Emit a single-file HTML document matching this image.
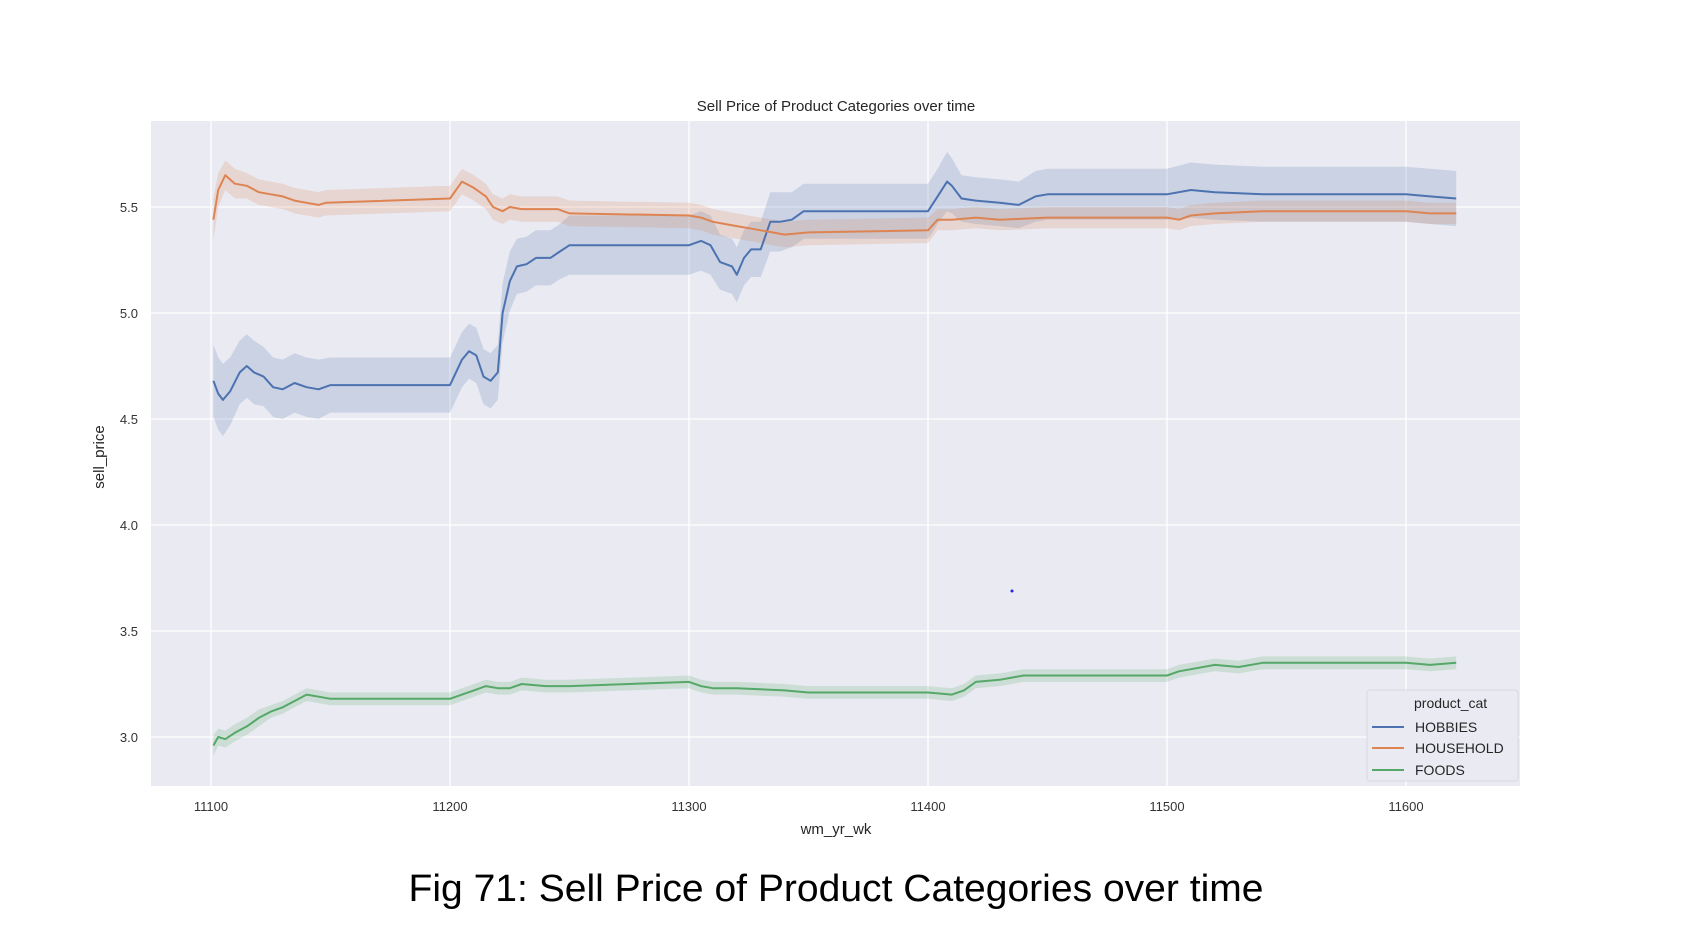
<!DOCTYPE html>
<html><head><meta charset="utf-8"><style>
html,body{margin:0;padding:0;background:#fff;}
svg{display:block;font-family:"Liberation Sans",sans-serif;}
</style></head><body>
<svg id="chart" width="1688" height="932" viewBox="0 0 1688 932">
<rect x="151" y="121" width="1369" height="665" fill="#eaeaf2"/>
<g id="grid"></g>
<g id="bands"></g>
<g id="lines"></g>
<g id="ticks"></g>
<text x="836" y="111" font-size="15" fill="#262626" text-anchor="middle">Sell Price of Product Categories over time</text>
<text x="836" y="834" font-size="15" fill="#262626" text-anchor="middle">wm_yr_wk</text>
<text transform="translate(104,457) rotate(-90)" font-size="15" fill="#262626" text-anchor="middle">sell_price</text>
<g>
<rect x="1367" y="690" width="151" height="91" rx="3" fill="#eaeaf2" stroke="#d8d8e0"/>
<text x="1414" y="708" font-size="14" fill="#262626">product_cat</text>
<line x1="1372" y1="727" x2="1404" y2="727" stroke="#4c72b0" stroke-width="2"/>
<text x="1415" y="732" font-size="14" fill="#262626">HOBBIES</text>
<line x1="1372" y1="748" x2="1404" y2="748" stroke="#dd8452" stroke-width="2"/>
<text x="1415" y="753" font-size="14" fill="#262626">HOUSEHOLD</text>
<line x1="1372" y1="770" x2="1404" y2="770" stroke="#55a868" stroke-width="2"/>
<text x="1415" y="775" font-size="14" fill="#262626">FOODS</text>
</g>
<circle cx="1012" cy="591" r="1.5" fill="#2222ee"/>
<text x="836" y="901" font-size="38" fill="#000" text-anchor="middle" textLength="855" lengthAdjust="spacingAndGlyphs">Fig 71: Sell Price of Product Categories over time</text>
</svg>
<script>
const xTicks = [11100,11200,11300,11400,11500,11600];
const yTicks = [3.0,3.5,4.0,4.5,5.0,5.5];
const yTickLabels = ["3.0","3.5","4.0","4.5","5.0","5.5"];

const hobbiesX = [11101,11103,11105,11108,11112,11115,11118,11122,11126,11130,11135,11140,11145,11150,11200,11205,11208,11211,11214,11217,11220,11222,11225,11228,11232,11236,11242,11246,11250,11300,11305,11309,11313,11318,11320,11323,11326,11330,11334,11338,11343,11348,11400,11404,11408,11410,11414,11420,11430,11438,11445,11450,11500,11510,11520,11540,11600,11610,11621];
const hobbiesY = [4.68,4.62,4.59,4.63,4.72,4.75,4.72,4.70,4.65,4.64,4.67,4.65,4.64,4.66,4.66,4.78,4.82,4.80,4.70,4.68,4.72,5.00,5.15,5.22,5.23,5.26,5.26,5.29,5.32,5.32,5.34,5.32,5.24,5.22,5.18,5.26,5.30,5.30,5.43,5.43,5.44,5.48,5.48,5.55,5.62,5.60,5.54,5.53,5.52,5.51,5.55,5.56,5.56,5.58,5.57,5.56,5.56,5.55,5.54];
const hobbiesErr = [0.17,0.17,0.17,0.16,0.15,0.15,0.15,0.14,0.14,0.14,0.14,0.14,0.14,0.13,0.13,0.13,0.13,0.13,0.13,0.13,0.13,0.14,0.14,0.13,0.13,0.13,0.13,0.13,0.14,0.14,0.14,0.14,0.13,0.13,0.13,0.13,0.13,0.13,0.14,0.14,0.13,0.13,0.13,0.13,0.14,0.13,0.11,0.11,0.11,0.11,0.12,0.12,0.12,0.13,0.13,0.13,0.13,0.13,0.13];

const householdX = [11101,11103,11106,11110,11115,11120,11125,11130,11135,11140,11145,11148,11200,11205,11210,11215,11218,11222,11225,11230,11240,11245,11250,11300,11305,11310,11315,11320,11325,11330,11335,11340,11350,11400,11404,11410,11420,11430,11450,11500,11505,11510,11520,11540,11600,11610,11621];
const householdY = [5.44,5.58,5.65,5.61,5.60,5.57,5.56,5.55,5.53,5.52,5.51,5.52,5.54,5.62,5.59,5.55,5.50,5.48,5.50,5.49,5.49,5.49,5.47,5.46,5.45,5.43,5.42,5.41,5.40,5.39,5.38,5.37,5.38,5.39,5.44,5.44,5.45,5.44,5.45,5.45,5.44,5.46,5.47,5.48,5.48,5.47,5.47];
const householdErr = [0.1,0.08,0.07,0.07,0.06,0.06,0.06,0.06,0.06,0.06,0.06,0.06,0.06,0.06,0.06,0.06,0.06,0.06,0.06,0.06,0.06,0.06,0.06,0.06,0.06,0.06,0.06,0.06,0.06,0.06,0.06,0.06,0.06,0.06,0.05,0.05,0.05,0.05,0.05,0.05,0.05,0.05,0.05,0.05,0.05,0.05,0.05];

const foodsX = [11101,11103,11106,11110,11115,11120,11125,11130,11135,11140,11145,11150,11200,11205,11210,11215,11220,11225,11230,11240,11250,11300,11305,11310,11320,11340,11350,11400,11410,11415,11420,11430,11440,11450,11500,11505,11510,11520,11530,11540,11600,11610,11621];
const foodsY = [2.96,3.00,2.99,3.02,3.05,3.09,3.12,3.14,3.17,3.20,3.19,3.18,3.18,3.20,3.22,3.24,3.23,3.23,3.25,3.24,3.24,3.26,3.24,3.23,3.23,3.22,3.21,3.21,3.20,3.22,3.26,3.27,3.29,3.29,3.29,3.31,3.32,3.34,3.33,3.35,3.35,3.34,3.35];
const foodsErr = [0.05,0.04,0.04,0.04,0.04,0.04,0.03,0.03,0.03,0.03,0.03,0.03,0.03,0.03,0.03,0.03,0.03,0.03,0.03,0.03,0.03,0.03,0.03,0.03,0.03,0.03,0.03,0.03,0.03,0.03,0.03,0.03,0.03,0.03,0.03,0.03,0.03,0.03,0.03,0.03,0.03,0.03,0.03];

const NS = "http://www.w3.org/2000/svg";
function sx(v){ return 211 + (v - 11100) * 2.39; }
function sy(v){ return 737 - (v - 3.0) * 212; }
function mk(tag, attrs, parent){
  const e = document.createElementNS(NS, tag);
  for (const k in attrs) e.setAttribute(k, attrs[k]);
  parent.appendChild(e);
  return e;
}
const grid = document.getElementById('grid');
const ticks = document.getElementById('ticks');
xTicks.forEach(t => {
  const l = mk('line', {x1:sx(t), x2:sx(t), y1:121, y2:786, stroke:'#fff', 'stroke-width':1.3}, grid);
  
  
  const tx = mk('text', {x:sx(t), y:811, 'font-size':13, fill:'#333', 'text-anchor':'middle'}, ticks);
  tx.textContent = String(t);
  
  
});
yTicks.forEach((t, i) => {
  const l = mk('line', {x1:151, x2:1520, y1:sy(t), y2:sy(t), stroke:'#fff', 'stroke-width':1.3}, grid);
  
  
  const tx = mk('text', {x:138, y:sy(t) + 5, 'font-size':13, fill:'#333', 'text-anchor':'end'}, ticks);
  tx.textContent = yTickLabels[i];
  
  
});
function series(xs, ys, es, color, name){
  let up = '', dn = '', ln = '';
  xs.forEach((x, i) => {
    up += (i ? 'L' : 'M') + sx(x).toFixed(1) + ',' + sy(ys[i] + es[i]).toFixed(1);
    ln += (i ? 'L' : 'M') + sx(x).toFixed(1) + ',' + sy(ys[i]).toFixed(1);
  });
  for (let i = xs.length - 1; i >= 0; i--) dn += 'L' + sx(xs[i]).toFixed(1) + ',' + sy(ys[i] - es[i]).toFixed(1);
  const b = mk('path', {d: up + dn + 'Z', fill: color, 'fill-opacity': 0.2}, document.getElementById('bands'));
  
  
  const p = mk('path', {d: ln, fill: 'none', stroke: color, 'stroke-width': 2, 'stroke-linejoin': 'round'}, document.getElementById('lines'));
  
  
}
series(hobbiesX, hobbiesY, hobbiesErr, '#4c72b0', 'hobbies');
series(householdX, householdY, householdErr, '#dd8452', 'household');
series(foodsX, foodsY, foodsErr, '#55a868', 'foods');
</script>
</body></html>
